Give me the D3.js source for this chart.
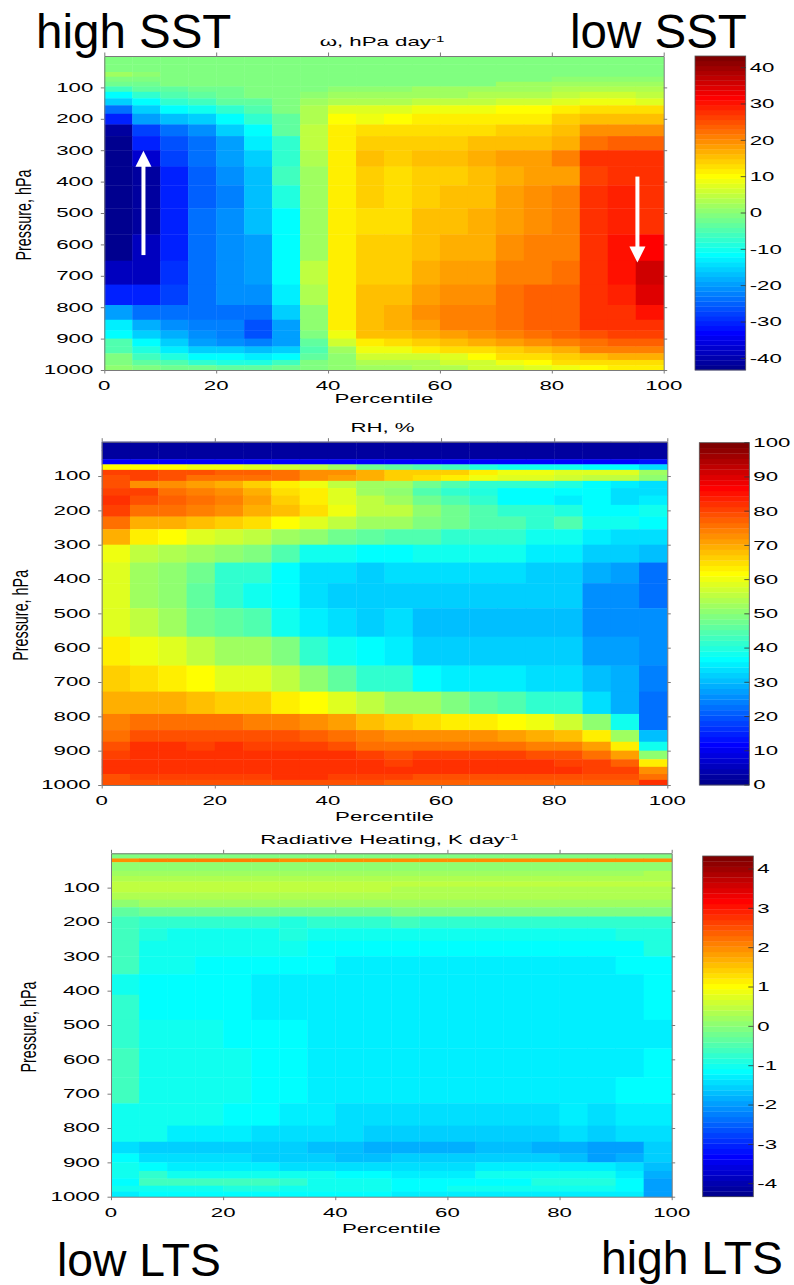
<!DOCTYPE html>
<html>
<head>
<meta charset="utf-8">
<script src="https://cdn.jsdelivr.net/npm/d3@7"></script>
<style>
  html, body { margin: 0; padding: 0; background: #fff; }
  svg { display: block; font-family: "Liberation Sans", Arial, Helvetica, sans-serif; }
</style>
</head>
<body>
<svg id="fig" width="794" height="1285"></svg>
<script>
// ---- grid: percentile bins (x) and pressure-level edges (y, hPa) ----
const percentileEdges = [0, 5, 10, 15, 20, 25, 30, 35, 40, 45, 50, 55, 60, 65, 70, 75, 80, 85, 90, 95, 100];
const pressureEdges = [0, 15, 26, 51, 66, 82, 97, 114, 135, 157, 184, 218, 255, 300, 352, 412, 485, 568, 652, 728, 793, 840, 874, 900, 925, 947, 968, 985, 1000];
const percentileTicks = [0, 20, 40, 60, 80, 100];
const pressureTicks = [100, 200, 300, 400, 500, 600, 700, 800, 900, 1000];

// ---- omega, hPa/day : one row per pressure layer, one value per percentile bin ----
const omegaValues = [
  [-0.5,-0.5,-0.5,-0.5,-0.5,-0.5,-0.5,-0.5,-0.5,-0.5,-0.5,-0.5,-0.5,-0.5,-0.5,-0.5,-0.5,-0.5,-0.5,-0.5],
  [-0.5,-0.5,-0.5,-0.5,-0.5,-0.5,-0.5,-0.5,-0.5,-0.5,-0.5,-0.5,-0.5,-0.5,-0.5,-0.5,-0.5,-0.5,-0.5,-0.5],
  [-0.5,-0.5,-0.5,-0.5,-0.5,-0.5,-0.5,-0.5,-0.5,-0.5,-0.5,-0.5,-0.5,-0.5,-0.5,-0.5,-0.5,-0.5,-0.5,-0.5],
  [1.5,1,-0.5,-0.5,-0.5,-0.5,-0.5,-0.5,-0.5,-0.5,-0.5,-0.5,-0.5,-0.5,-0.5,-0.5,-0.5,-0.5,-0.5,-0.5],
  [-0.5,-0.5,-0.5,-0.5,-0.5,-0.5,-0.5,-0.5,-0.5,-0.5,-0.5,-0.5,-0.5,-0.5,-0.5,-0.5,1,1,1,1],
  [-2.5,-1.5,-1,-1,-0.5,-0.5,-0.5,-0.5,-0.5,-0.5,-0.5,-0.5,-0.5,-0.5,1.5,1.5,1.5,1.5,1.5,1.5],
  [-6,-4,-3,-2,-1.5,-1,-0.5,-0.5,0.5,0.5,0.5,1.5,1.5,1.5,2.5,2.5,3.5,3.5,3.5,3.5],
  [-12,-8,-5,-3,-2,-1,-0.5,1,1.5,1.5,1.5,2.5,2.5,3,3.5,4,5,5.5,5.5,5],
  [-16,-11,-8,-6,-4,-3,-1,2,4,4,3.5,4.5,4.5,5,5.5,6.5,7.5,9,8.5,8],
  [-23,-15,-12,-10,-7,-5,-0.5,3,7,8,8,8.5,8.5,9,9.5,10,11,12.5,12.5,12.5],
  [-30,-20,-17,-16,-11,-7,-3,4,10,9,10,11,11,11,11.5,12,13.5,15,15.5,16],
  [-41,-28,-24,-21,-16,-11,-4,5,11,13,12.5,13,13,13,13.5,14,16,19,20,19],
  [-42,-31,-27,-23,-19,-13.5,-7,5,12,14,14,14.5,14.5,15,15,16,17.5,22.5,23.5,23.5],
  [-42,-37,-28,-24,-20,-15,-7,4,12,15,14,15,15,16.5,18,18.8,21,27,28.3,27],
  [-42,-41,-31,-25,-21,-17,-6,2,11,14,13,14.7,14.7,15.5,17.5,18.1,18.8,25.7,28.3,27],
  [-42,-41,-31,-25,-22,-17,-9,2,11,14.5,12.7,14.7,15.5,16.2,18.1,19.5,20.3,27.6,29.7,28.3],
  [-42,-41,-30,-24,-21,-16.5,-11,2,11,13.4,13.4,15.5,16.2,16.8,18.8,19.5,21,28.3,29.7,28.3],
  [-42,-39,-30,-23,-21.6,-19,-11,2,11,14,14,16.2,16.8,17.5,19.5,21,21.6,28.3,30,32],
  [-39,-38,-29,-23,-21.6,-19.5,-11,5,11,14,14.7,17.5,18.1,18.8,20.3,21.6,22.3,28.3,30,36],
  [-31,-31,-27.6,-23,-21.6,-20.5,-13,4,12,16,16.2,18.1,19.5,19.5,22,23,24,28.3,29,34],
  [-19.5,-23,-23,-23,-24,-24,-15,1,11,16,17.5,19.5,20.3,21,22.3,23,24,27.6,28.3,30],
  [-13,-18,-21,-22.7,-22.7,-26,-19.5,1,10.8,16.2,17.5,18.8,21,21,22.3,23.5,24.2,27,27.6,28.3],
  [-10.8,-15,-18,-21.6,-22.7,-26,-19.5,-1,9,15,15.5,17.5,18.8,19.5,21,22.3,23,25,25.7,25.7],
  [-4.3,-10.8,-16,-19.5,-20.5,-22.7,-19.5,-3,6.5,12,12.7,14,16.2,16.8,18.1,19.5,20.3,22.9,23.5,24.2],
  [-4.3,-9,-13,-15,-16,-17,-16,-4.3,2,9,8.8,10.9,12.7,13.4,14.7,16.2,17.5,20.3,20.3,21],
  [-1,-6.5,-8.6,-10.8,-11.5,-12.5,-11.5,-3,1,5.4,5.4,6,8,9.5,12.7,13.4,14,16.2,16.8,17.5],
  [-0.5,-3,-4.3,-7.5,-8.6,-8.6,-6.5,-1,1,3,2.8,3.5,5.4,6.5,8.8,9.5,13.4,12.7,13.4,13.4],
  [1,-1,-2,-2.5,-3,-3,-2,-0.5,1,2,1.4,2.8,4,5.4,6.5,7,8.8,9.5,10.8,10.8]
];
const omegaLimits = [-43.2, 43.2];
const omegaTicks = [-40, -30, -20, -10, 0, 10, 20, 30, 40];

// ---- relative humidity, % ----
const rhValues = [
  [2.5,2.5,2.5,2.5,2.5,2.5,2.5,2.5,2.5,2.5,2.5,2.5,2.5,2.5,2.5,2.5,2.5,2.5,2.5,2.5],
  [2.5,2.5,2.5,2.5,2.5,2.5,2.5,2.5,2.5,2.5,2.5,2.5,2.5,2.5,2.5,2.5,2.5,2.5,2.5,2.5],
  [2.5,2.5,2.5,2.5,2.5,2.5,2.5,2.5,2.5,2.5,2.5,2.5,2.5,2.5,2.5,2.5,2.5,2.5,2.5,2.5],
  [11,11,11,11,11,11,11,11,11,11,11,11,11,11,11,11,11,11,11,14],
  [62,62,61,60,60,59,57,55,52,48,46,44,43,40,39,39,38,37,36,33],
  [79.8,79.8,79.1,79.1,77.7,77.7,75,73,72,70,67,67,67,62.5,60,60,59,58,58,53],
  [79.1,79.8,78.4,76.4,76.4,76.4,75,73,71,69,67,65,64,60,58,58,57,56,55,50],
  [78.4,73,72,71,69,66,62.5,60,56,53,52,47,44,41,41,41,40,36,35,34],
  [80.6,79.8,76.4,74,72,69,65,62.5,58,53,50,44,41,40,37,36.5,37,36,34,34],
  [81.3,78.4,77,75,74,71,67,64,59,55,53,47,44,41,37,37,35.5,37,34,35],
  [79.8,75,75,74,72.5,70,68,65.5,60,56,55,50,47,44,42,41,40,37,36.5,37.5],
  [75,70,69,68,66,65,61,59,56,53,52,48.5,47,44,44,41,44,39,37.5,36],
  [69,62.5,61,58,57,56,53,50,47,45.5,44,44,42,42,42,39,39,35,34,33.5],
  [60,56,54,53,50,48.5,44,37.5,37.5,36,37,39,37.5,37.5,37.5,35,35,32.5,31.5,30],
  [58,53,50,47,42,41,36,34,33,32.5,33,33,33,33,33,32.5,32.5,29,27,23],
  [58,53,50,45.5,42,39,36,33,31.5,31.5,32,31.5,31.5,31.5,31.5,31.5,31.5,26.5,26,23],
  [59,55,53,47,45.5,44,38,35,33,32.5,33,31,31,31,31,31,31,26.5,26,25],
  [62.5,60,59,56,53,52.5,48.5,42,37.5,36,35,32.5,32.5,32.5,32.5,32.5,32.5,28,27,26],
  [67,65.5,64,61,59,58,55.5,50,45.5,41,41,37,35,35,35,34,34,30,29,24],
  [70,70,69,68.5,67,67,64,61,58,55,52,52,48.5,45.5,44,42,41,34,29,23],
  [74,75,75,75,75,74,73.5,72,71,68.5,67,65.5,64,62.5,61,60,57,50,37.5,23],
  [75.7,78.4,78.4,79.1,79.1,79.1,79.1,77.4,75.7,74,72,72,72.5,72.5,71,69,68,62.5,53,31],
  [78.4,81.3,81.3,80.6,81.3,80.6,80.6,79.8,78.4,76.4,75,76.4,76.4,75.7,75,74,73.5,71,64,37.5],
  [80.6,82.2,82.2,82.6,82.6,82.6,82.6,82.2,81.3,80.6,79.1,79.8,79.8,79.8,79.8,79.1,78.4,76.4,71,51],
  [81.3,82.6,82.6,82.6,82.6,82.6,82.6,82.6,82.2,81.3,80.6,81.3,81.3,81.3,81.3,81.3,80.6,79.8,77.4,64],
  [81.3,82.6,82.6,82.6,82.6,82.6,82.6,82.6,82.2,82.2,81.3,81.3,81.3,81.3,81.3,81.3,81.3,80.6,79.8,72.5],
  [79.1,80.6,80.6,80.6,80.6,80.6,81.3,81.3,80.6,79.8,79.8,79.1,79.1,79.1,79.1,79.1,79.1,79.1,79.1,75.7],
  [78.4,79.1,79.1,79.1,79.1,79.1,79.1,79.1,78.4,78.4,77.4,77.4,77.4,77.4,77.4,77.4,77.4,77.4,77.4,81.3]
];
const rhLimits = [0, 100];
const rhTicks = [0, 10, 20, 30, 40, 50, 60, 70, 80, 90, 100];

// ---- radiative heating, K/day ----
const heatingValues = [
  [-0.1,-0.1,-0.1,-0.1,-0.1,-0.1,-0.1,-0.1,-0.1,-0.1,-0.1,-0.1,-0.1,-0.1,-0.1,-0.1,-0.1,-0.1,-0.1,-0.1],
  [1.9,2.1,2.1,2.1,2.1,2.1,2.0,2.0,2.0,1.9,1.9,1.9,1.9,1.9,1.9,1.9,1.9,1.9,1.9,2.0],
  [0.05,0.05,0.05,0.05,0.05,0.05,0.05,0.05,0.05,0.05,0.05,0.05,0.05,0.05,0.05,0.05,0.05,0.05,0.05,0.05],
  [0.2,0.2,0.2,0.2,0.2,0.2,0.2,0.2,0.2,0.25,0.25,0.25,0.25,0.25,0.25,0.25,0.25,0.25,0.25,0.35],
  [0.4,0.35,0.35,0.35,0.35,0.35,0.35,0.35,0.35,0.35,0.35,0.35,0.35,0.35,0.35,0.35,0.35,0.35,0.35,0.35],
  [0.5,0.45,0.45,0.45,0.45,0.45,0.45,0.45,0.45,0.45,0.45,0.45,0.45,0.45,0.45,0.45,0.45,0.45,0.45,0.45],
  [0.5,0.45,0.45,0.45,0.45,0.45,0.45,0.45,0.45,0.45,0.4,0.4,0.4,0.4,0.4,0.4,0.4,0.4,0.4,0.4],
  [0.35,0.35,0.35,0.35,0.35,0.35,0.35,0.35,0.35,0.3,0.3,0.3,0.3,0.3,0.3,0.3,0.3,0.3,0.3,0.3],
  [0.1,0.15,0.15,0.15,0.15,0.15,0.15,0.15,0.15,0.15,0.2,0.2,0.2,0.2,0.2,0.2,0.2,0.2,0.2,0.2],
  [-0.3,-0.2,-0.2,-0.2,-0.2,-0.2,-0.2,-0.2,-0.2,-0.2,-0.1,-0.1,-0.1,-0.1,-0.1,-0.1,-0.1,-0.1,-0.1,-0.1],
  [-0.55,-0.7,-0.7,-0.7,-0.7,-0.7,-0.9,-0.7,-0.7,-0.7,-0.6,-0.7,-0.7,-0.7,-0.7,-0.7,-0.7,-0.8,-0.8,-0.8],
  [-0.55,-0.85,-0.95,-0.95,-0.95,-0.95,-0.85,-0.95,-0.95,-0.95,-1.0,-0.95,-0.95,-0.95,-0.95,-0.95,-0.95,-0.95,-0.9,-0.85],
  [-0.55,-0.95,-1.0,-1.0,-1.0,-1.05,-1.05,-1.1,-1.1,-1.1,-1.1,-1.2,-1.2,-1.2,-1.15,-1.1,-1.1,-1.1,-1.1,-0.85],
  [-0.6,-1.0,-1.05,-1.1,-1.1,-1.1,-1.15,-1.2,-1.25,-1.3,-1.3,-1.35,-1.35,-1.35,-1.35,-1.3,-1.25,-1.25,-1.2,-1.15],
  [-0.95,-1.1,-1.1,-1.1,-1.1,-1.25,-1.25,-1.25,-1.35,-1.35,-1.35,-1.35,-1.35,-1.35,-1.35,-1.35,-1.35,-1.35,-1.35,-1.15],
  [-0.8,-1.1,-1.1,-1.1,-1.1,-1.3,-1.3,-1.3,-1.35,-1.35,-1.35,-1.35,-1.35,-1.35,-1.35,-1.35,-1.35,-1.35,-1.35,-1.2],
  [-0.8,-1.0,-1.08,-1.08,-1.1,-1.1,-1.1,-1.25,-1.25,-1.35,-1.35,-1.35,-1.35,-1.35,-1.35,-1.35,-1.35,-1.35,-1.35,-1.35],
  [-0.67,-0.95,-0.95,-1.08,-1.08,-1.1,-1.1,-1.35,-1.35,-1.35,-1.35,-1.35,-1.35,-1.35,-1.35,-1.35,-1.35,-1.35,-1.35,-1.15],
  [-0.67,-0.95,-0.95,-1.08,-1.08,-1.1,-1.1,-1.35,-1.35,-1.35,-1.35,-1.35,-1.35,-1.35,-1.35,-1.35,-1.35,-1.35,-1.15,-1.15],
  [-0.95,-0.95,-1.08,-1.08,-1.15,-1.15,-1.35,-1.35,-1.4,-1.4,-1.45,-1.45,-1.45,-1.45,-1.45,-1.45,-1.25,-1.4,-1.35,-1.25],
  [-0.95,-1.08,-1.35,-1.35,-1.35,-1.45,-1.45,-1.45,-1.45,-1.5,-1.5,-1.5,-1.5,-1.5,-1.5,-1.5,-1.45,-1.5,-1.45,-1.4],
  [-1.4,-1.5,-1.5,-1.6,-1.6,-1.6,-1.6,-1.75,-1.75,-1.8,-1.8,-1.8,-1.8,-1.75,-1.75,-1.8,-1.8,-1.95,-1.9,-1.6],
  [-1.2,-1.45,-1.45,-1.45,-1.45,-1.55,-1.55,-1.55,-1.7,-1.7,-1.6,-1.6,-1.6,-1.6,-1.6,-1.6,-1.7,-1.9,-1.8,-1.55],
  [-1.08,-1.15,-1.35,-1.35,-1.35,-1.35,-1.4,-1.4,-1.45,-1.45,-1.45,-1.45,-1.45,-1.35,-1.35,-1.35,-1.35,-1.35,-1.45,-1.7],
  [-0.95,-0.8,-0.95,-0.95,-0.95,-0.95,-0.95,-1.08,-1.15,-1.15,-1.25,-1.25,-1.25,-1.08,-1.08,-1.08,-1.08,-1.08,-1.25,-1.8],
  [-1.15,-0.67,-0.67,-0.67,-0.67,-0.67,-0.8,-0.95,-1.08,-1.08,-1.15,-1.15,-1.15,-1.15,-1.15,-0.85,-0.85,-0.85,-1.15,-1.95],
  [-1.08,-0.95,-0.95,-0.95,-0.85,-0.85,-0.95,-0.95,-0.95,-1.08,-1.15,-1.15,-1.08,-1.08,-1.08,-1.08,-1.08,-1.08,-1.15,-1.95],
  [-1.35,-1.1,-1.1,-1.1,-1.1,-1.1,-1.1,-1.1,-1.1,-1.1,-1.25,-1.25,-1.25,-1.25,-1.25,-1.25,-1.25,-1.25,-1.25,-1.95]
];
const heatingLimits = [-4.33, 4.33];
const heatingTicks = [-4, -3, -2, -1, 0, 1, 2, 3, 4];

// ---- ascent / descent arrows on the omega panel (percentile, hPa) ----
const arrowPercentile = [7, 95.3];
const arrowStartPressure = [634, 384];
const arrowTipPressure = [302, 658];

// ---- styling ----
const FONT_SIZE = 12.5;
const STRETCH = 1.78;
const AXIS_COLOR = "#7a7a7a";

// 64-step jet colormap
function jetPalette() {
  const out = [];
  for (let k = 1; k <= 64; k++) {
    const r = k <= 24 ? 0 : k <= 40 ? (k - 24) / 16 : k <= 56 ? 1 : (72 - k) / 16;
    const g = k <= 8 ? 0 : k <= 24 ? (k - 8) / 16 : k <= 40 ? 1 : k <= 55 ? (56 - k) / 16 : 0;
    const b = k <= 8 ? (k + 8) / 16 : k <= 24 ? 1 : k <= 39 ? (40 - k) / 16 : 0;
    out.push(d3.rgb(r * 255, g * 255, b * 255).formatHex());
  }
  return out;
}
const jetColors = jetPalette();

const svg = d3.select("#fig");

// text drawn with the figure's wide lettering
function label(parent, x, y, str, o = {}) {
  const sx = o.sx ?? STRETCH, sy = o.sy ?? 1;
  const tr = `translate(${x},${y}) scale(${sx},${sy})` + (o.rotate ? ` rotate(${o.rotate})` : "");
  return parent.append("text")
    .attr("transform", tr)
    .attr("text-anchor", o.anchor || "middle")
    .attr("dy", o.dy || 0)
    .attr("font-size", o.size || FONT_SIZE)
    .attr("fill", "#000")
    .text(str);
}

const panels = [
  {
    values: omegaValues, limits: omegaLimits, ticks: omegaTicks,
    title: ["\u03c9, hPa day", "-1"],
    plot: { left: 104.3, right: 663.7, top: 56, bottom: 370 },
    bar: { left: 695, right: 745.7, top: 56, bottom: 370 },
    ylabelX: 31, xlabelDy: 33, titleDy: 10, arrows: true
  },
  {
    values: rhValues, limits: rhLimits, ticks: rhTicks,
    title: ["RH, %", null],
    plot: { left: 101.7, right: 667.3, top: 441.7, bottom: 785 },
    bar: { left: 699.3, right: 749.3, top: 442.7, bottom: 785 },
    ylabelX: 28, xlabelDy: 35.5, titleDy: 10, arrows: false
  },
  {
    values: heatingValues, limits: heatingLimits, ticks: heatingTicks,
    title: ["Radiative Heating, K day", "-1"],
    plot: { left: 111, right: 671.7, top: 853.3, bottom: 1196.7 },
    bar: { left: 702.7, right: 753.3, top: 856, bottom: 1196.7 },
    ylabelX: 36, xlabelDy: 36, titleDy: 9, arrows: false
  }
];

function drawPanel(p) {
  const x = d3.scaleLinear().domain([0, 100]).range([p.plot.left, p.plot.right]);
  const y = d3.scaleLinear().domain([0, 1000]).range([p.plot.top, p.plot.bottom]);
  const color = d3.scaleQuantize().domain(p.limits).range(jetColors);
  const g = svg.append("g");

  // cells
  const cells = [];
  p.values.forEach((row, i) => row.forEach((v, j) => cells.push({ i, j, v })));
  g.append("g").selectAll("rect").data(cells).join("rect")
    .attr("x", d => x(percentileEdges[d.j]))
    .attr("y", d => y(pressureEdges[d.i]))
    .attr("width", d => x(percentileEdges[d.j + 1]) - x(percentileEdges[d.j]) + 0.4)
    .attr("height", d => y(pressureEdges[d.i + 1]) - y(pressureEdges[d.i]) + 0.4)
    .attr("fill", d => color(d.v));

  // axes: outward ticks on all four sides
  const axes = [
    [d3.axisBottom(x).tickValues(percentileTicks), `translate(0,${p.plot.bottom})`],
    [d3.axisTop(x).tickValues(percentileTicks), `translate(0,${p.plot.top})`],
    [d3.axisLeft(y).tickValues(pressureTicks), `translate(${p.plot.left},0)`],
    [d3.axisRight(y).tickValues(pressureTicks), `translate(${p.plot.right},0)`]
  ];
  axes.forEach(([ax, tr]) => {
    const a = g.append("g").attr("transform", tr)
      .call(ax.tickSizeInner(3.5).tickSizeOuter(0).tickFormat(""));
    a.select(".domain").attr("stroke", AXIS_COLOR);
    a.selectAll(".tick line").attr("stroke", AXIS_COLOR);
  });

  // tick labels
  percentileTicks.forEach(t => label(g, x(t), p.plot.bottom + 20, String(t)));
  pressureTicks.forEach(t => label(g, p.plot.left - 11, y(t), String(t), { anchor: "end", dy: "0.35em" }));

  // axis titles
  label(g, (p.plot.left + p.plot.right) / 2, p.plot.bottom + p.xlabelDy, "Percentile");
  label(g, p.ylabelX, (p.plot.top + p.plot.bottom) / 2 + 2, "Pressure, hPa",
    { rotate: -90, sx: 1.8, sy: 1.15 });

  const tt = label(g, (p.plot.left + p.plot.right) / 2 - 2, p.plot.top - p.titleDy, "");
  tt.append("tspan").text(p.title[0]);
  if (p.title[1]) tt.append("tspan").attr("dy", -4.5).attr("font-size", 8.5).text(p.title[1]);

  // colorbar
  const cy = d3.scaleLinear().domain(p.limits).range([p.bar.bottom, p.bar.top]);
  const step = (p.limits[1] - p.limits[0]) / jetColors.length;
  const bands = jetColors.map((c, k) => ({ lo: p.limits[0] + k * step, hi: p.limits[0] + (k + 1) * step, c }));
  const cb = g.append("g");
  cb.selectAll("rect").data(bands).join("rect")
    .attr("x", p.bar.left)
    .attr("width", p.bar.right - p.bar.left)
    .attr("y", d => cy(d.hi))
    .attr("height", d => cy(d.lo) - cy(d.hi) + 0.3)
    .attr("fill", d => d.c);
  cb.append("rect")
    .attr("x", p.bar.left).attr("y", p.bar.top)
    .attr("width", p.bar.right - p.bar.left).attr("height", p.bar.bottom - p.bar.top)
    .attr("fill", "none").attr("stroke", "#555").attr("stroke-width", 0.8);
  cb.selectAll("line.tick").data(p.ticks).join("line")
    .attr("x1", p.bar.right - 5).attr("x2", p.bar.right)
    .attr("y1", d => cy(d)).attr("y2", d => cy(d))
    .attr("stroke", "#333").attr("stroke-width", 0.8);
  p.ticks.forEach(t => label(cb, p.bar.right + 4, cy(t), String(t), { anchor: "start", dy: "0.35em" }));

  // white arrows marking ascent and descent regimes
  if (p.arrows) {
    arrowPercentile.forEach((pc, k) => {
      const ax = x(pc), y0 = y(arrowStartPressure[k]), y1 = y(arrowTipPressure[k]);
      const dir = Math.sign(y1 - y0), head = 16, half = 8;
      g.append("line")
        .attr("x1", ax).attr("x2", ax)
        .attr("y1", y0).attr("y2", y1 - dir * head + dir)
        .attr("stroke", "#fff").attr("stroke-width", 4);
      g.append("path")
        .attr("d", `M${ax},${y1} L${ax - half},${y1 - dir * head} L${ax + half},${y1 - dir * head} Z`)
        .attr("fill", "#fff");
    });
  }
}

panels.forEach(drawPanel);

// regime annotations
const notes = svg.append("g").attr("font-family", "'Liberation Sans', Arial, sans-serif").attr("fill", "#000");
notes.append("text").attr("x", 36).attr("y", 48).attr("font-size", 47.5).text("high SST");
notes.append("text").attr("x", 570).attr("y", 48).attr("font-size", 47.5).text("low SST");
notes.append("text").attr("x", 57).attr("y", 1276).attr("font-size", 46.3).text("low LTS");
notes.append("text").attr("x", 601).attr("y", 1274).attr("font-size", 46.3).text("high LTS");
</script>
</body>
</html>
